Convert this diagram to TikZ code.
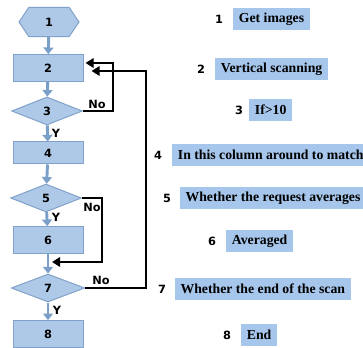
\documentclass[tikz,border=0pt]{standalone}
\usepackage{fontspec}
\setmainfont{Liberation Serif}
\newfontfamily\flowfont{DejaVu Sans}
\usetikzlibrary{shapes.geometric,shapes.symbols,positioning,arrows.meta}

\definecolor{shapefill}{RGB}{174,201,231}
\definecolor{shapeedge}{RGB}{128,162,202}
\definecolor{markfill}{RGB}{166,198,235}
\definecolor{flowline}{RGB}{122,160,202}

\tikzset{every picture/.style={line width=0.75pt}}
\tikzset{
  hexa/.style={shape=signal, signal to=west and east, signal pointer angle=112,
    draw=shapeedge, fill=shapefill, minimum width=45pt, minimum height=22pt,
    inner sep=0pt, font=\flowfont\bfseries\fontsize{8.5}{10}\selectfont},
  stepbox/.style={rectangle, draw=shapeedge, fill=shapefill, minimum width=52.5pt,
    minimum height=20pt, inner sep=0pt, font=\flowfont\bfseries\fontsize{8.5}{10}\selectfont},
  test/.style={diamond, draw=shapeedge, fill=shapefill, minimum width=53pt,
    minimum height=21pt, inner sep=0pt, font=\flowfont\bfseries\fontsize{8.5}{10}\selectfont},
  flow/.style={draw=flowline, line width=2.2pt, -{Triangle[length=5pt,width=7.5pt]}},
  back/.style={draw=black, line width=1.5pt, -{Triangle[length=6pt,width=7pt]}},
  tag/.style={font=\flowfont\bfseries\fontsize{8.5}{10}\selectfont, inner sep=0.75pt},
  num/.style={font=\flowfont\bfseries\fontsize{8.5}{10}\selectfont, inner sep=0.75pt},
  note/.style={fill=markfill, font=\bfseries\fontsize{10.3}{12}\selectfont,
    inner xsep=4.5pt, inner ysep=3pt, minimum height=16pt}
}

\begin{document}
\begin{tikzpicture}[x=0.75pt, y=0.75pt, yscale=-1,xscale=1]

    \useasboundingbox (0,0) rectangle (363,348);

    % Flow chart shapes
    \node [hexa]    (s1) at (49, 22)  {1};
    \node [stepbox] (b2) at (48, 68)  {2};
    \node [test]    (d3) at (47,111)  {3};
    \node [stepbox, minimum height=16.5pt] (b4) at (48,153) {4};
    \node [test]    (d5) at (46,198)  {5};
    \node [stepbox] (b6) at (48,240)  {6};
    \node [test, minimum width=55pt] (d7) at (48,288) {7};
    \node [stepbox] (b8) at (48,334)  {8};

    \coordinate (j6) at (52,262);

    % Line 1 - 2 - 3 - 4 - 5 - 6 - 7 - 8
    \draw [flow] (s1) -- (b2);
    \draw [flow] (b2) -- (d3);
    \draw [flow] (d3) -- (b4);
    \draw [flow] (b4) -- (d5);
    \draw [flow] (d5) -- (b6);
    \draw [flow] (b6) -- (d7);
    \draw [flow] (d7) -- (b8);

    % Line 3 - 2 (No)
    \draw [back] (d3.east) -- ++(30,0) |- ([xshift=1.5pt,yshift=-3.75pt]b2.east);

    % Line 5 - 7 (No)
    \draw [back] (d5.east) -- ++(20,0) |- (j6);

    % Line 7 - 2 (No)
    \draw [back] (d7.east) -- ++(61,0) |- ([xshift=6pt,yshift=2.25pt]b2.east);

    % Labels: No / Y
    \node [tag] (no3) at (97,104) {No};
    \node [tag] (no5) at (92,207) {No};
    \node [tag] (no7) at (101,280) {No};
    \node [tag] (y3) at (56,133) {Y};
    \node [tag] (y5) at (56,217) {Y};
    \node [tag] (y7) at (57,310) {Y};

    % Legend
    \node [num] (n1) at (219, 19) {1};
    \node [note, right=6pt of n1] (t1) {Get images};
    \node [num] (n2) at (201, 69) {2};
    \node [note, right=6pt of n2] (t2) {Vertical scanning};
    \node [num] (n3) at (239,110) {3};
    \node [note, right=3pt of n3] (t3) {If>10};
    \node [num] (n4) at (158,155) {4};
    \node [note, right=6pt of n4] (t4) {In this column around to match};
    \node [num] (n5) at (167,198) {5};
    \node [note, right=5pt of n5] (t5) {Whether the request averages};
    \node [num] (n6) at (212,241) {6};
    \node [note, right=6pt of n6] (t6) {Averaged};
    \node [num] (n7) at (162,289) {7};
    \node [note, right=5pt of n7] (t7) {Whether the end of the scan};
    \node [num] (n8) at (227,335) {8};
    \node [note, right=6pt of n8] (t8) {End};

\end{tikzpicture}
\end{document}
